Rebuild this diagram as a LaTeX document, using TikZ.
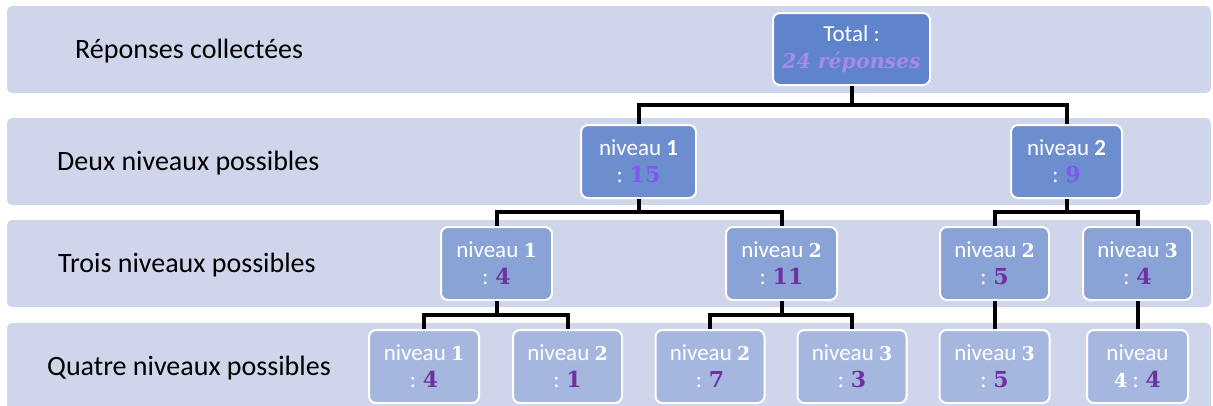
\documentclass[tikz,border=0pt]{standalone}
\usepackage{fontspec}
\setmainfont{Carlito}
\newfontfamily\numfont{DejaVu Serif}
\definecolor{bandc}{HTML}{CFD5EA}
\definecolor{cA}{HTML}{5F84CB}
\definecolor{cB}{HTML}{6C8ECF}
\definecolor{cC}{HTML}{89A3D6}
\definecolor{cD}{HTML}{A6B7DF}
\definecolor{plight}{HTML}{A98AE6}
\definecolor{pmid}{HTML}{7F58EE}
\definecolor{pdark}{HTML}{7030A0}
\newcommand\lvsans[1]{\textbf{#1}}
\newcommand\lvser[1]{{\numfont\bfseries\fontsize{19}{27}\selectfont #1}}
\newcommand\valmid[1]{{\numfont\bfseries\fontsize{22}{27}\selectfont\color{pmid}#1}}
\newcommand\valdark[1]{{\numfont\bfseries\fontsize{22}{27}\selectfont\color{pdark}#1}}
\tikzset{
  band/.style={fill=bandc, draw=none, rounded corners=5pt},
  lab/.style={anchor=base west, font=\fontsize{28}{32}\selectfont, text=black, inner sep=0pt},
  tbox/.style={draw=white, line width=2pt, rounded corners=7pt, text=white, align=center,
    inner sep=0pt, font=\fontsize{23}{27}\selectfont, minimum height=73pt},
  conn/.style={line width=4pt, black},
}
\begin{document}
\begin{tikzpicture}[x=1pt,y=-1pt]
\useasboundingbox (0,0) rectangle (1213,405);
\clip (0,0) rectangle (1213,405);
% bands
\fill[band] (7,6) rectangle (1211,93);
\fill[band] (7,118) rectangle (1211,205);
\fill[band] (7,220) rectangle (1211,307);
\fill[band] (7,323) rectangle (1211,420);
% labels
\node[lab] (l1) at (75,58) {Réponses collectées};
\node[lab] (l2) at (57,170) {Deux niveaux possibles};
\node[lab] (l3) at (58,272) {Trois niveaux possibles};
\node[lab] (l4) at (47,375) {Quatre niveaux possibles};
% nodes
\node[tbox, fill=cA, minimum width=157pt, minimum height=72pt] (tot) at (851.5,49)
  {Total :\\{\numfont\bfseries\itshape\fontsize{20.5}{27}\selectfont\color{plight}24 réponses}};
\node[tbox, fill=cB, minimum width=115pt] (n21) at (638.5,161.5) {niveau \lvsans{1}\\: \valmid{15}};
\node[tbox, fill=cB, minimum width=111pt] (n22) at (1066.5,161.5) {niveau \lvsans{2}\\: \valmid{9}};
\node[tbox, fill=cC, minimum width=111pt] (n31) at (496.5,263.5) {niveau \lvser{1}\\: \valdark{4}};
\node[tbox, fill=cC, minimum width=111pt] (n32) at (781.5,263.5) {niveau \lvser{2}\\: \valdark{11}};
\node[tbox, fill=cC, minimum width=109pt] (n33) at (994.5,263.5) {niveau \lvser{2}\\: \valdark{5}};
\node[tbox, fill=cC, minimum width=109pt] (n34) at (1137.5,263.5) {niveau \lvser{3}\\: \valdark{4}};
\node[tbox, fill=cD, minimum width=110pt] (n41) at (424,366.5) {niveau \lvser{1}\\: \valdark{4}};
\node[tbox, fill=cD, minimum width=109pt] (n42) at (567.5,366.5) {niveau \lvser{2}\\: \valdark{1}};
\node[tbox, fill=cD, minimum width=109pt] (n43) at (710,366.5) {niveau \lvser{2}\\: \valdark{7}};
\node[tbox, fill=cD, minimum width=109pt] (n44) at (852,366.5) {niveau \lvser{3}\\: \valdark{3}};
\node[tbox, fill=cD, minimum width=110pt] (n45) at (994.5,366.5) {niveau \lvser{3}\\: \valdark{5}};
\node[tbox, fill=cD, minimum width=101pt] (n46) at (1137.5,366.5) {niveau\\\lvser{4} : \valdark{4}};
% junctions
\coordinate (j0) at (851.5,105);
\coordinate (j1) at (638.5,212);
\coordinate (j2) at (1066.5,212);
\coordinate (j3) at (496.5,315);
\coordinate (j4) at (781.5,315);
% connectors
\draw[conn] (tot.south) -- (j0);
\draw[conn] (n21.north) |- (j0) -| (n22.north);
\draw[conn] (n21.south) -- (j1);
\draw[conn] (n31.north) |- (j1) -| (n32.north);
\draw[conn] (n22.south) -- (j2);
\draw[conn] (n33.north) |- (j2) -| (n34.north);
\draw[conn] (n31.south) -- (j3);
\draw[conn] (n41.north) |- (j3) -| (n42.north);
\draw[conn] (n32.south) -- (j4);
\draw[conn] (n43.north) |- (j4) -| (n44.north);
\draw[conn] (n33.south) -- (n45.north);
\draw[conn] (n34.south) -- (n46.north);
\end{tikzpicture}
\end{document}
